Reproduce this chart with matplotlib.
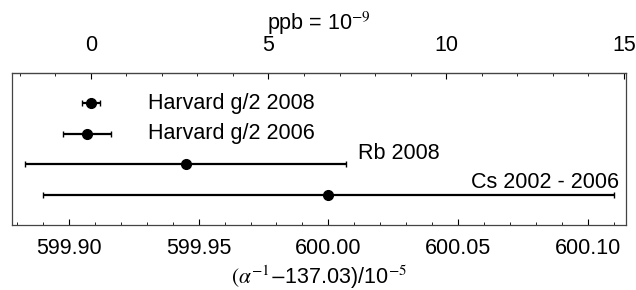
import matplotlib.pyplot as plt
from matplotlib.ticker import MultipleLocator, FixedLocator

plt.rcParams['font.family'] = ['Liberation Sans', 'DejaVu Sans']
plt.rcParams['mathtext.fontset'] = 'stix'

# (alpha^-1 - 137.03)/1e-5
labels = ["Harvard g/2 2008", "Harvard g/2 2006", "Rb 2008", "Cs 2002 - 2006"]
values = [599.9084, 599.9068, 599.945, 600.000]
errors = [0.0035, 0.0092, 0.062, 0.110]
rows = [4, 3, 2, 1]
ppb_ticks = [0, 5, 10, 15]

ref = 599.9084          # zero of the ppb scale
ppb_unit = 0.0137036    # 1 ppb of 137.036 in units of 1e-5

fig = plt.figure(figsize=(6.36, 2.9), dpi=100)
ax = fig.add_axes([12/636, 1 - 225/290, 614/636, (225 - 72.7)/290])

ax.errorbar(values, rows, xerr=errors, fmt='o', color='black', ms=7,
            elinewidth=1.6, capsize=2.2, capthick=1.0)

ax.text(599.9306, 4, labels[0], fontsize=15.5, va='center', ha='left')
ax.text(599.9306, 3, labels[1], fontsize=15.5, va='center', ha='left')
ax.text(600.0115, 2.35, labels[2], fontsize=15.5, va='center', ha='left')
ax.text(600.1122, 1.4, labels[3], fontsize=15.5, va='center', ha='right')

ax.set_xlim(599.878, 600.1148)
ax.set_ylim(0, 5)
ax.set_yticks([])
ax.xaxis.set_major_locator(MultipleLocator(0.05))
ax.xaxis.set_minor_locator(MultipleLocator(0.01))
ax.xaxis.set_major_formatter(plt.FormatStrFormatter('%.2f'))
ax.tick_params(axis='x', which='major', direction='in', length=4, width=0.8,
               labelsize=15.5, pad=9.5)
ax.tick_params(axis='x', which='minor', direction='in', length=2.5, width=0.6)
ax.set_xlabel(r'$(\alpha^{-1}$$-$137.03)/10$^{-5}$', fontsize=15.5, labelpad=3)

top = ax.secondary_xaxis('top', functions=(lambda x: (x - ref) / ppb_unit,
                                           lambda p: p * ppb_unit + ref))
top.xaxis.set_major_locator(FixedLocator(ppb_ticks))
top.xaxis.set_minor_locator(FixedLocator(list(range(-2, 16))))
top.tick_params(axis='x', which='major', direction='in', length=4, width=0.8,
                labelsize=15.5, pad=12)
top.tick_params(axis='x', which='minor', direction='in', length=2.5, width=0.6)
top.set_xlabel(r'ppb = 10$^{-9}$', fontsize=15.5, labelpad=4)

for s in ax.spines.values():
    s.set_color('#444444')
    s.set_linewidth(0.9)

fig.savefig('out.png', dpi=100)
